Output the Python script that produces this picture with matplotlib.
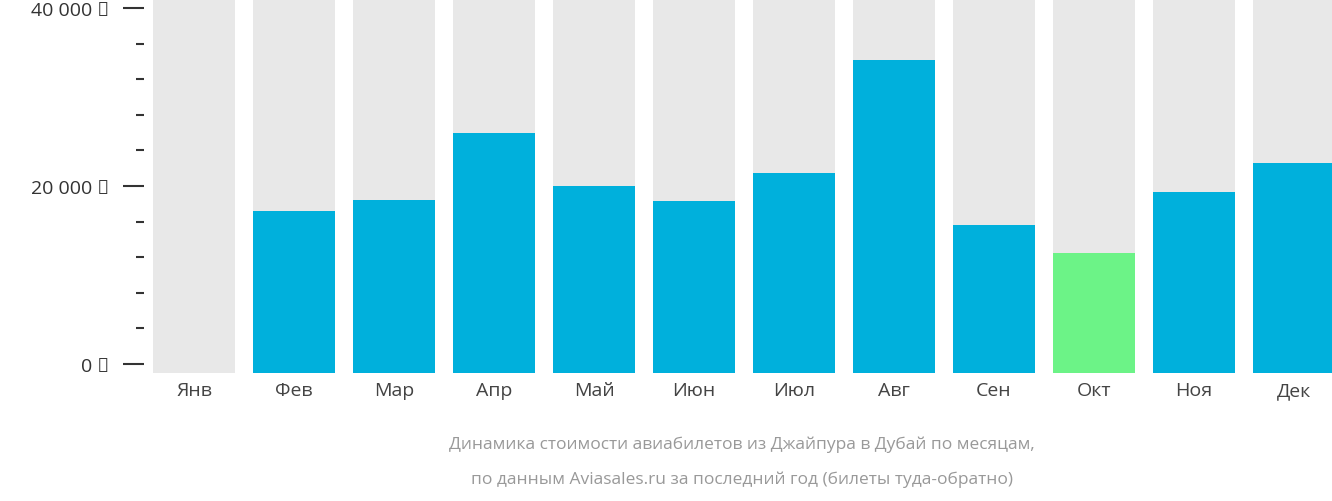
import matplotlib
matplotlib.use("Agg")
import matplotlib.pyplot as plt

months = ["Янв", "Фев", "Мар", "Апр", "Май", "Июн", "Июл", "Авг", "Сен", "Окт", "Ноя", "Дек"]
prices = [0, 17200, 18400, 26000, 20000, 18300, 21500, 34200, 15600, 12500, 19300, 22600]
cheapest = "Окт"
major_ticks = [0, 20000, 40000]
major_labels = ["0 ₽", "20 000 ₽", "40 000 ₽"]
minor_ticks = [4000, 8000, 12000, 16000, 24000, 28000, 32000, 36000]

plt.rcParams["font.family"] = "Open Sans"
W, H = 1332, 502
fig = plt.figure(figsize=(W / 100, H / 100), dpi=100)
ax = fig.add_axes([144 / W, 1 - 374 / H, 1 - 144 / W, 374 / H])

ymin, ymax = -1000, 41000
x = range(len(months))
ax.bar(x, [ymax - ymin] * len(months), bottom=ymin, width=0.82, color="#e8e8e8")
colors = ["#6cf387" if m == cheapest else "#00b0dc" for m in months]
ax.bar(x, [p - ymin if p > 0 else 0 for p in prices], bottom=ymin, width=0.82, color=colors)

ax.set_xlim(-0.5, 11.38)
ax.set_ylim(ymin, ymax)
for s in ax.spines.values():
    s.set_visible(False)
ax.set_yticks(major_ticks)
ax.set_yticklabels(major_labels, fontsize=14, color="#333333")
ax.set_yticks(minor_ticks, minor=True)
ax.tick_params(axis="y", which="major", length=15, width=1.5, color="#333333", pad=10)
ax.tick_params(axis="y", which="minor", length=6, width=1.5, color="#333333")
ax.set_xticks(list(x))
ax.set_xticklabels(months, fontsize=14, color="#444444")
ax.tick_params(axis="x", length=0, pad=6)

fig.text(742 / W, 1 - 445 / H, "Динамика стоимости авиабилетов из Джайпура в Дубай по месяцам,",
         ha="center", va="center", fontsize=12.5, color="#999999")
fig.text(742 / W, 1 - 480 / H, "по данным Aviasales.ru за последний год (билеты туда-обратно)",
         ha="center", va="center", fontsize=12.5, color="#999999")

fig.savefig("out.png", dpi=100)
